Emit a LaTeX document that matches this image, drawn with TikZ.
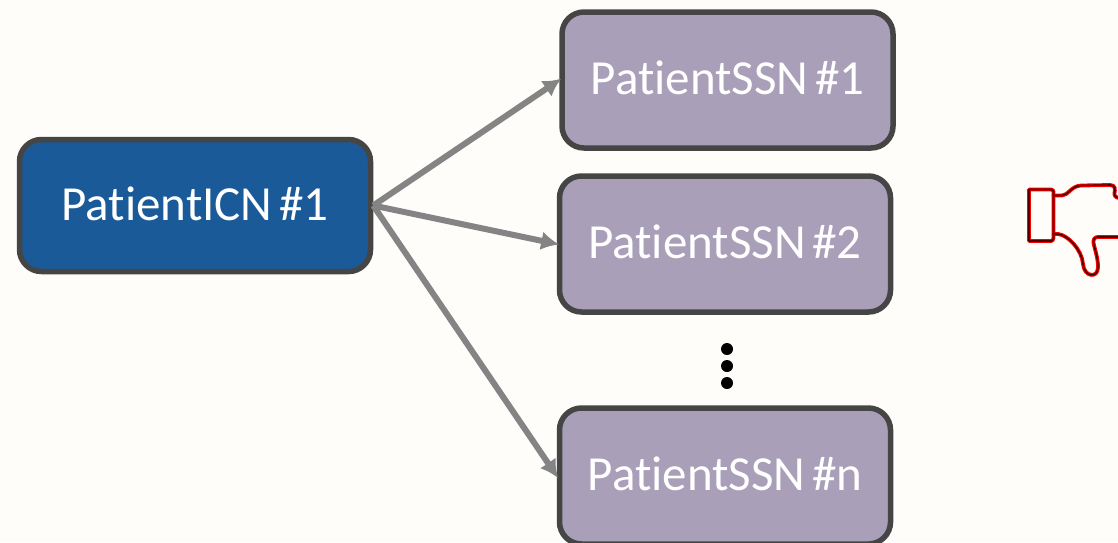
\documentclass[tikz,border=0pt]{standalone}
\usepackage{fontspec}
\setmainfont{Carlito}[RawFeature=-liga,WordSpace=0.6]
\usetikzlibrary{arrows.meta}
\tikzset{>={Latex[width=19pt,length=18pt]}}
\definecolor{paper}{HTML}{FFFDF9}
\definecolor{darkblue}{HTML}{1A5A99}
\definecolor{mauve}{HTML}{A99FB8}
\definecolor{edgegray}{HTML}{454545}
\definecolor{linkgray}{HTML}{848484}
\tikzset{
  patientbox/.style={draw=edgegray, line width=5.5pt, rounded corners=22pt, text=white,
    inner sep=0pt, minimum width=#1, text depth=4pt, font=\fontsize{49}{49}\selectfont},
  link/.style={->, color=linkgray, line width=6pt, shorten >=-2.5pt},
  thumb/.style={line join=round, line cap=round}
}

\begin{document}
\begin{tikzpicture}[x=1pt,y=-1pt]

  \newcommand\BoxW{331pt}
  \newcommand\BoxH{136pt}

  \useasboundingbox[fill=paper] (0,0) rectangle (1118,542);

  \node[patientbox=351pt, minimum height=132pt, fill=darkblue] (icn) at (195,205.5) {PatientICN \#1};
  \node[patientbox=\BoxW, minimum height=\BoxH, fill=mauve] (ssn1) at (727.5,80) {PatientSSN \#1};
  \node[patientbox=\BoxW, minimum height=\BoxH, fill=mauve] (ssn2) at (725,244) {PatientSSN \#2};
  \node[patientbox=\BoxW, minimum height=\BoxH, fill=mauve] (ssnn) at (725,476) {PatientSSN \#n};

  \draw[link] (icn.east) -- (ssn1.west);
  \draw[link] (icn.east) -- (ssn2.west);
  \draw[link] (icn.east) -- (ssnn.west);

  \foreach \i/\y in {1/349,2/366,3/383}
    \node[circle, fill=black, inner sep=0pt, minimum size=12pt] (dot\i) at (727,\y) {};

  %% thumb down
  \foreach \c/\w in {red/3.8pt,black!70!red/1.6pt}{
    \draw[thumb, draw=\c, line width=\w] (1029,189.5) -- (1051,189.5)
      .. controls (1053,189.5) and (1053.5,191) .. (1053.5,192) -- (1053.5,238)
      .. controls (1053.5,240) and (1052,241) .. (1051,241) -- (1029,241) -- cycle;
    \draw[thumb, draw=\c, line width=\w] (1053.5,195.5) -- (1062,195.5)
      .. controls (1068,195.5) and (1071,186) .. (1081,185.5) -- (1110,185)
      .. controls (1116,185) and (1115,190) .. (1114.5,193)
      .. controls (1114,196) and (1116,198) .. (1120,198);
    \draw[thumb, draw=\c, line width=\w] (1053.5,234) -- (1058,234)
      .. controls (1068,235) and (1082,250) .. (1083,264)
      .. controls (1084,277) and (1098,279) .. (1098,267)
      .. controls (1098,258) and (1095,250) .. (1093.5,243)
      .. controls (1093,239) and (1095,237) .. (1098,237) -- (1120,237);
  }

\end{tikzpicture}
\end{document}
